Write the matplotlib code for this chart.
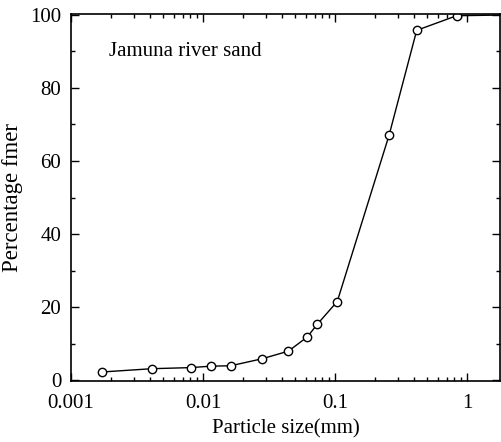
import matplotlib
matplotlib.use("Agg")
import matplotlib.pyplot as plt
from matplotlib.ticker import LogLocator, FixedLocator, FixedFormatter, MultipleLocator, NullFormatter

plt.rcParams['font.family'] = ['Liberation Serif', 'DejaVu Serif']

size_mm = [0.00172, 0.0041, 0.0081, 0.0115, 0.0162, 0.0279, 0.0443, 0.0617, 0.0735,
           0.104, 0.257, 0.416, 0.835, 2.0]
pct_finer = [2.2, 3.1, 3.4, 3.8, 3.9, 5.8, 7.9, 11.8, 15.3, 21.5, 67.1, 95.8, 99.8, 100.0]

xticks = [0.001, 0.01, 0.1, 1]
xticklabels = ['0.001', '0.01', '0.1', '1']
yticks = [0, 20, 40, 60, 80, 100]

fig = plt.figure(figsize=(5.02, 4.42), dpi=100)
ax = fig.add_axes([71/502, 1-381/442, (500-71)/502, (381-14)/442])

ax.plot(size_mm, pct_finer, '-', color='black', lw=1.0, marker='o', ms=6,
        mfc='white', mec='black', mew=1.0, clip_on=True)

ax.set_xscale('log')
ax.set_xlim(0.001, 10**(429/132 - 3))
ax.set_ylim(-0.27, 100.27)

ax.xaxis.set_major_locator(FixedLocator(xticks))
ax.xaxis.set_major_formatter(FixedFormatter(xticklabels))
ax.xaxis.set_minor_locator(LogLocator(base=10, subs=range(2, 10), numticks=20))
ax.xaxis.set_minor_formatter(NullFormatter())
ax.yaxis.set_major_locator(FixedLocator(yticks))
ax.yaxis.set_minor_locator(MultipleLocator(10))

ax.tick_params(which='both', direction='in', top=True, right=True, labelsize=15, width=1.0)
ax.tick_params(which='major', length=6)
ax.tick_params(which='minor', length=3)
ax.tick_params(axis='x', which='major', pad=9)
ax.tick_params(axis='y', which='major', pad=7)
for s in ax.spines.values():
    s.set_linewidth(1.2)

ax.set_xlabel('Particle size(mm)', fontsize=15, labelpad=5)
ax.set_ylabel('Percentage fmer', fontsize=16.5, labelpad=5)

ax.text(0.00195, 90, 'Jamuna river sand', fontsize=15, va='center', ha='left')

fig.savefig('out.png', dpi=100)
